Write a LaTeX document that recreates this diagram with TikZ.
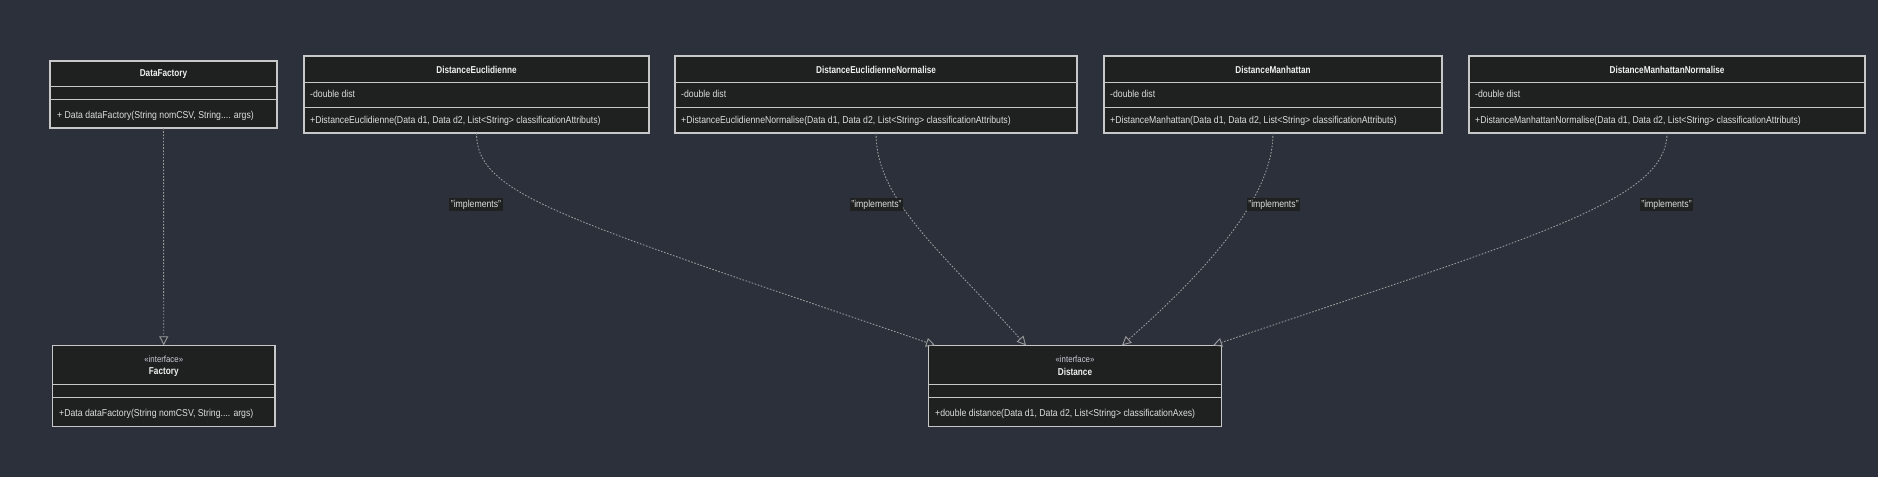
\documentclass[tikz,border=0pt]{standalone}
\usepackage{fontspec}
\setmainfont{Liberation Sans}[FakeStretch=0.87]
\newfontfamily\ttlfont{Liberation Sans}[FakeStretch=0.82]
\usetikzlibrary{arrows.meta,calc}
\definecolor{bg}{HTML}{2B303B}
\definecolor{boxfill}{HTML}{1F2020}
\definecolor{boxline}{HTML}{C8C8C8}
\definecolor{edgec}{HTML}{9A9A9A}
\definecolor{ttlc}{HTML}{F0F0F0}
\definecolor{memc}{HTML}{DEDEDE}
\definecolor{sterc}{HTML}{C8CCD8}
\begin{document}
\begin{tikzpicture}[x=1pt,y=-1pt,
  cls/.style={draw=boxline,fill=boxfill,line width=1.1pt,inner sep=0pt,outer sep=0pt,anchor=north west},
  divl/.style={draw=boxline,line width=1pt},
  ttl/.style={text=ttlc,font=\fontsize{10}{12}\ttlfont\bfseries,inner sep=0pt},
  ster/.style={text=sterc,font=\fontsize{9}{11}\selectfont,inner sep=0pt},
  mem/.style={text=memc,font=\fontsize{10}{12}\selectfont,inner sep=0pt,anchor=west},
  lbl/.style={fill=boxfill,text=memc,font=\fontsize{10}{12}\selectfont,inner xsep=1.5pt,inner ysep=2pt},
  impl/.style={draw=edgec,line width=0.9pt,dash pattern=on 1.6pt off 1.6pt,-{Triangle[open,length=9pt,width=9pt]}}
]
\fill[bg] (0,0) rectangle (1878,477);
\useasboundingbox (0,0) rectangle (1878,477);

% ---------- DataFactory ----------
\node[cls,minimum width=227pt,minimum height=67pt] (df) at (50,61) {};
\draw[divl] ($(df.north west)+(0,25.5)$) -- ($(df.north east)+(0,25.5)$);
\draw[divl] ($(df.north west)+(0,38.5)$) -- ($(df.north east)+(0,38.5)$);
\node[ttl] (dft) at (163.5,74) {DataFactory};
\node[mem] (dfm) at (57,115.5) {+ Data dataFactory(String nomCSV, String.... args)};

% ---------- DistanceEuclidienne ----------
\node[cls,minimum width=345pt,minimum height=77pt] (de) at (304,56) {};
\draw[divl] ($(de.north west)+(0,26)$) -- ($(de.north east)+(0,26)$);
\draw[divl] ($(de.north west)+(0,51.7)$) -- ($(de.north east)+(0,51.7)$);
\node[ttl] (det) at (476.5,70) {DistanceEuclidienne};
\node[mem] (dea) at (310,94.3) {-double dist};
\node[mem] (dem) at (310,121) {+DistanceEuclidienne(Data d1, Data d2, List<String> classificationAttributs)};

% ---------- DistanceEuclidienneNormalise ----------
\node[cls,minimum width=402pt,minimum height=77pt] (den) at (675,56) {};
\draw[divl] ($(den.north west)+(0,26)$) -- ($(den.north east)+(0,26)$);
\draw[divl] ($(den.north west)+(0,51.7)$) -- ($(den.north east)+(0,51.7)$);
\node[ttl] (dent) at (876,70) {DistanceEuclidienneNormalise};
\node[mem] (dena) at (681,94.3) {-double dist};
\node[mem] (denm) at (681,121) {+DistanceEuclidienneNormalise(Data d1, Data d2, List<String> classificationAttributs)};

% ---------- DistanceManhattan ----------
\node[cls,minimum width=338pt,minimum height=77pt] (dm) at (1104,56) {};
\draw[divl] ($(dm.north west)+(0,26)$) -- ($(dm.north east)+(0,26)$);
\draw[divl] ($(dm.north west)+(0,51.7)$) -- ($(dm.north east)+(0,51.7)$);
\node[ttl] (dmt) at (1273,70) {DistanceManhattan};
\node[mem] (dma) at (1110,94.3) {-double dist};
\node[mem] (dmm) at (1110,121) {+DistanceManhattan(Data d1, Data d2, List<String> classificationAttributs)};

% ---------- DistanceManhattanNormalise ----------
\node[cls,minimum width=396pt,minimum height=77pt] (dmn) at (1469,56) {};
\draw[divl] ($(dmn.north west)+(0,26)$) -- ($(dmn.north east)+(0,26)$);
\draw[divl] ($(dmn.north west)+(0,51.7)$) -- ($(dmn.north east)+(0,51.7)$);
\node[ttl] (dmnt) at (1667,70) {DistanceManhattanNormalise};
\node[mem] (dmna) at (1475,94.3) {-double dist};
\node[mem] (dmnm) at (1475,121) {+DistanceManhattanNormalise(Data d1, Data d2, List<String> classificationAttributs)};

% ---------- Factory ----------
\node[cls,minimum width=222.5pt,minimum height=81.4pt] (fac) at (52.5,345.3) {};
\draw[divl] ($(fac.north west)+(0,39)$) -- ($(fac.north east)+(0,39)$);
\draw[divl] ($(fac.north west)+(0,52)$) -- ($(fac.north east)+(0,52)$);
\node[ster] (facs) at (163.75,359) {«interface»};
\node[ttl] (fact) at (163.75,372) {Factory};
\node[mem] (facm) at (59,414) {+Data dataFactory(String nomCSV, String.... args)};

% ---------- Distance ----------
\node[cls,minimum width=293.4pt,minimum height=81.4pt] (dist) at (928.3,345.3) {};
\draw[divl] ($(dist.north west)+(0,39)$) -- ($(dist.north east)+(0,39)$);
\draw[divl] ($(dist.north west)+(0,52)$) -- ($(dist.north east)+(0,52)$);
\node[ster] (dists) at (1075,359) {«interface»};
\node[ttl] (distt) at (1075,372) {Distance};
\node[mem] (distm) at (935,414) {+double distance(Data d1, Data d2, List<String> classificationAxes)};

% ---------- connectors ----------
\draw[impl] (df.south) -- (fac.north);
\draw[impl] (de.south) .. controls (476.5,195) and (560,217) .. ($(dist.north)+(-140,0)$);
\draw[impl] (den.south) .. controls (876,200) and (940,250) .. ($(dist.north)+(-49,0)$);
\draw[impl] (dm.south) .. controls (1273,195) and (1212,266) .. ($(dist.north)+(47,0)$);
\draw[impl] (dmn.south) .. controls (1667,200) and (1540,235) .. ($(dist.north)+(138,0)$);

% ---------- labels ----------
\node[lbl] (l1) at (476,204.5) {"implements"};
\node[lbl] (l2) at (876.5,204.5) {"implements"};
\node[lbl] (l3) at (1273.5,204.5) {"implements"};
\node[lbl] (l4) at (1666.5,204.5) {"implements"};
\end{tikzpicture}
\end{document}
